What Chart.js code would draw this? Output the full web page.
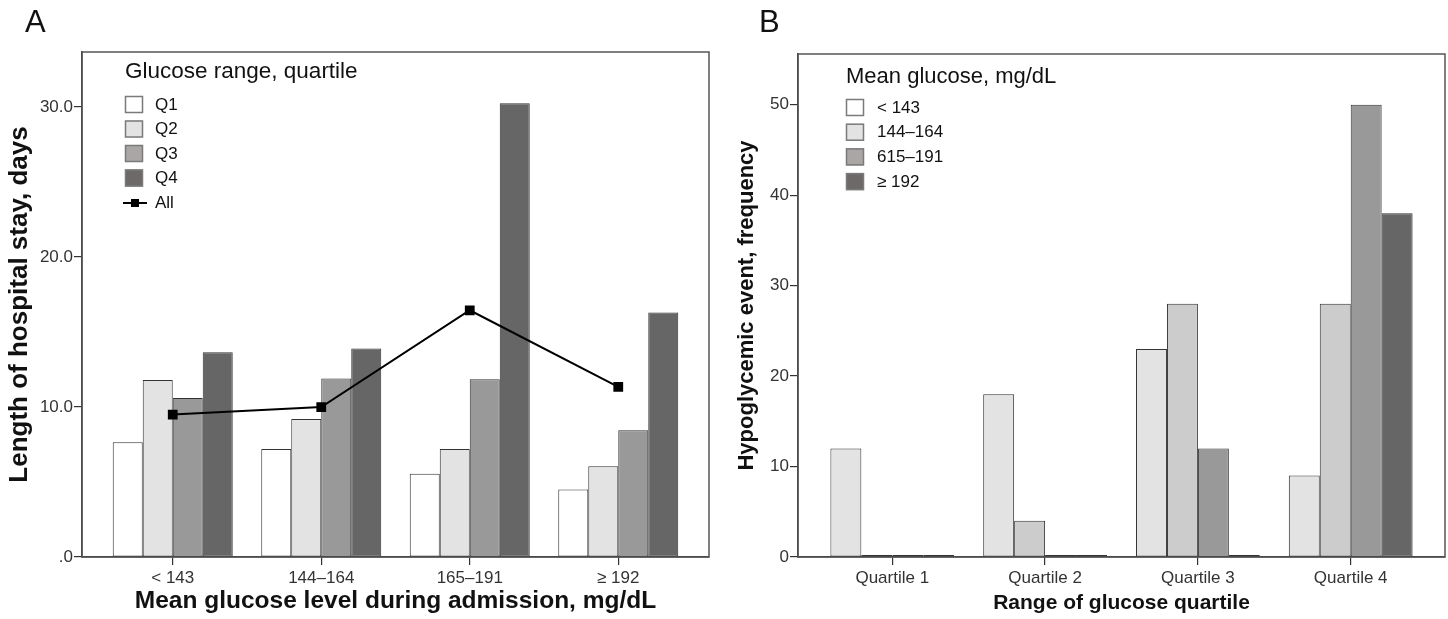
<!DOCTYPE html>
<html>
<head>
<meta charset="utf-8">
<script src="https://cdn.jsdelivr.net/npm/chart.js@4.4.0/dist/chart.umd.min.js"></script>
<style>
  html, body { margin: 0; padding: 0; background: #fff; }
  .panel { position: absolute; top: 0; width: 724px; height: 619px; }
  #wrapA { left: 0; }
  #wrapB { left: 724px; }
</style>
</head>
<body>
<div class="panel" id="wrapA"><canvas id="chartA" width="724" height="619"></canvas></div>
<div class="panel" id="wrapB"><canvas id="chartB" width="724" height="619"></canvas></div>
<script>
// ---- panel A: length of stay ----
const catsA = ['< 143', '144–164', '165–191', '≥ 192'];
const q1 = [7.65, 7.2, 5.55, 4.5];
const q2 = [11.8, 9.2, 7.2, 6.05];
const q3 = [10.6, 11.9, 11.85, 8.45];
const q4 = [13.65, 13.9, 30.25, 16.3];
const allA = [9.5, 10.0, 16.45, 11.35];
const yTicksA = [0, 10, 20, 30];
const legendA = ['Q1', 'Q2', 'Q3', 'Q4'];

// ---- panel B: hypoglycemic events ----
const catsB = ['Quartile 1', 'Quartile 2', 'Quartile 3', 'Quartile 4'];
const b1 = [12, 18, 23, 9];
const b2 = [0, 4, 28, 28];
const b3 = [0, 0, 12, 50];
const b4 = [0, 0, 0, 38];
const yTicksB = [0, 10, 20, 30, 40, 50];
const legendB = ['< 143', '144–164', '615–191', '≥ 192'];

const FONT = '"Liberation Sans", Arial, sans-serif';
Chart.defaults.font.family = FONT;
Chart.defaults.color = '#333';

// widen the category axis so the groups sit in from the frame
function spread(pad) {
  return function (scale) {
    const n = scale.getLabels().length;
    scale._startValue = -0.5 - pad;
    scale._valueRange = n + 2 * pad;
  };
}
function fixTicks(list) {
  return function (scale) { scale.ticks = list.map(v => ({ value: v })); };
}

function decor(cfg) {
  return {
    id: 'decor',
    afterDraw(chart) {
      const ctx = chart.ctx, a = chart.chartArea;
      ctx.save();
      ctx.strokeStyle = '#555';
      ctx.lineWidth = 1.5;
      ctx.strokeRect(a.left, a.top, a.right - a.left, a.bottom - a.top);

      ctx.fillStyle = '#111';
      ctx.textBaseline = 'alphabetic';
      ctx.font = '31px ' + FONT;
      ctx.fillText(cfg.letter, cfg.letterX, 32);

      ctx.font = cfg.titleSize + 'px ' + FONT;
      ctx.fillText(cfg.title, cfg.x, cfg.titleY);

      ctx.font = '17px ' + FONT;
      ctx.textBaseline = 'middle';
      cfg.labels.forEach((lab, i) => {
        const top = cfg.top + i * cfg.step;
        ctx.fillStyle = cfg.colors[i];
        ctx.fillRect(cfg.x, top, 18, 17);
        ctx.strokeStyle = '#7a7a7a';
        ctx.lineWidth = 1.5;
        ctx.strokeRect(cfg.x + 0.5, top + 0.5, 17, 16);
        ctx.fillStyle = '#111';
        ctx.fillText(lab, cfg.textX, top + 9);
      });
      if (cfg.lineLabel) {
        const y = cfg.top + cfg.labels.length * cfg.step + 9;
        ctx.strokeStyle = '#000';
        ctx.lineWidth = 2;
        ctx.beginPath();
        ctx.moveTo(cfg.x - 2, y);
        ctx.lineTo(cfg.x + 22, y);
        ctx.stroke();
        ctx.fillStyle = '#000';
        ctx.fillRect(cfg.x + 6, y - 4, 8, 8);
        ctx.fillStyle = '#111';
        ctx.fillText(cfg.lineLabel, cfg.textX, y);
      }
      ctx.restore();
    }
  };
}

function barSet(label, data, color, pct) {
  return {
    type: 'bar', label, data, order: 1,
    backgroundColor: color, borderColor: '#333', borderWidth: 1,
    borderSkipped: false, categoryPercentage: pct, barPercentage: 1,
    minBarLength: 2
  };
}

function axisOpts(o) {
  return {
    x: {
      afterBuildTicks: spread(o.pad),
      afterFit: s => { s.height = 62; },
      grid: { offset: false, drawOnChartArea: false, tickLength: 8, color: '#333', lineWidth: 1.2 },
      border: { color: '#333', width: 1.5 },
      ticks: { color: '#333', font: { size: 17 }, padding: 3 },
      title: { display: true, text: o.xTitle, color: '#111', font: { size: o.xTitleSize, weight: 'bold' }, padding: { top: 0, bottom: 3 } }
    },
    y: {
      min: 0, max: o.max,
      afterBuildTicks: fixTicks(o.ticks),
      afterFit: s => { s.width = o.yWidth; },
      grid: { drawOnChartArea: false, tickLength: 8, color: '#333', lineWidth: 1.2 },
      border: { color: '#333', width: 1.5 },
      ticks: { color: '#333', font: { size: 17 }, padding: 1, callback: o.fmt },
      title: { display: true, text: o.yTitle, color: '#111', font: { size: o.yTitleSize, weight: 'bold' }, padding: { top: o.yTitlePad, bottom: 0 } }
    }
  };
}

new Chart(document.getElementById('chartA'), {
  data: {
    labels: catsA,
    datasets: [
      { type: 'line', label: 'All', data: allA, order: 0, borderColor: '#000', borderWidth: 2,
        pointStyle: 'rect', pointRadius: 5.5, pointBackgroundColor: '#000', pointBorderColor: '#000' },
      barSet('Q1', q1, '#ffffff', 0.808),
      barSet('Q2', q2, '#e3e3e3', 0.808),
      barSet('Q3', q3, '#999999', 0.808),
      barSet('Q4', q4, '#666666', 0.808)
    ]
  },
  options: {
    responsive: false, animation: false,
    layout: { padding: { top: 52, right: 15, left: 0, bottom: 0 } },
    plugins: { legend: { display: false }, tooltip: { enabled: false } },
    scales: axisOpts({
      pad: 0.111, max: 33.67, ticks: yTicksA, yWidth: 82, yTitlePad: 4,
      xTitleSize: 24.5, yTitleSize: 26,
      fmt: v => v === 0 ? '.0' : v.toFixed(1),
      xTitle: 'Mean glucose level during admission, mg/dL',
      yTitle: 'Length of hospital stay, days'
    })
  },
  plugins: [decor({
    letter: 'A', letterX: 25, title: 'Glucose range, quartile', titleSize: 22.5, x: 125, titleY: 78,
    top: 96, step: 24.5, textX: 155, labels: legendA,
    colors: ['#ffffff', '#e3e3e3', '#aaa6a6', '#6d6969'], lineLabel: 'All'
  })]
});

new Chart(document.getElementById('chartB'), {
  data: {
    labels: catsB,
    datasets: [
      barSet(legendB[0], b1, '#e3e3e3', 0.81),
      barSet(legendB[1], b2, '#cccccc', 0.81),
      barSet(legendB[2], b3, '#999999', 0.81),
      barSet(legendB[3], b4, '#666666', 0.81)
    ]
  },
  options: {
    responsive: false, animation: false,
    layout: { padding: { top: 54, right: 3, left: 0, bottom: 0 } },
    plugins: { legend: { display: false }, tooltip: { enabled: false } },
    scales: axisOpts({
      pad: 0.117, max: 55.6, ticks: yTicksB, yWidth: 74, yTitlePad: 10,
      xTitleSize: 21, yTitleSize: 22,
      fmt: v => String(v),
      xTitle: 'Range of glucose quartile',
      yTitle: 'Hypoglycemic event, frequency'
    })
  },
  plugins: [decor({
    letter: 'B', letterX: 35, title: 'Mean glucose, mg/dL', titleSize: 22, x: 122, titleY: 83,
    top: 99, step: 24.7, textX: 153, labels: legendB,
    colors: ['#ffffff', '#e3e3e3', '#aaa6a6', '#6d6969']
  })]
});
</script>
</body>
</html>
